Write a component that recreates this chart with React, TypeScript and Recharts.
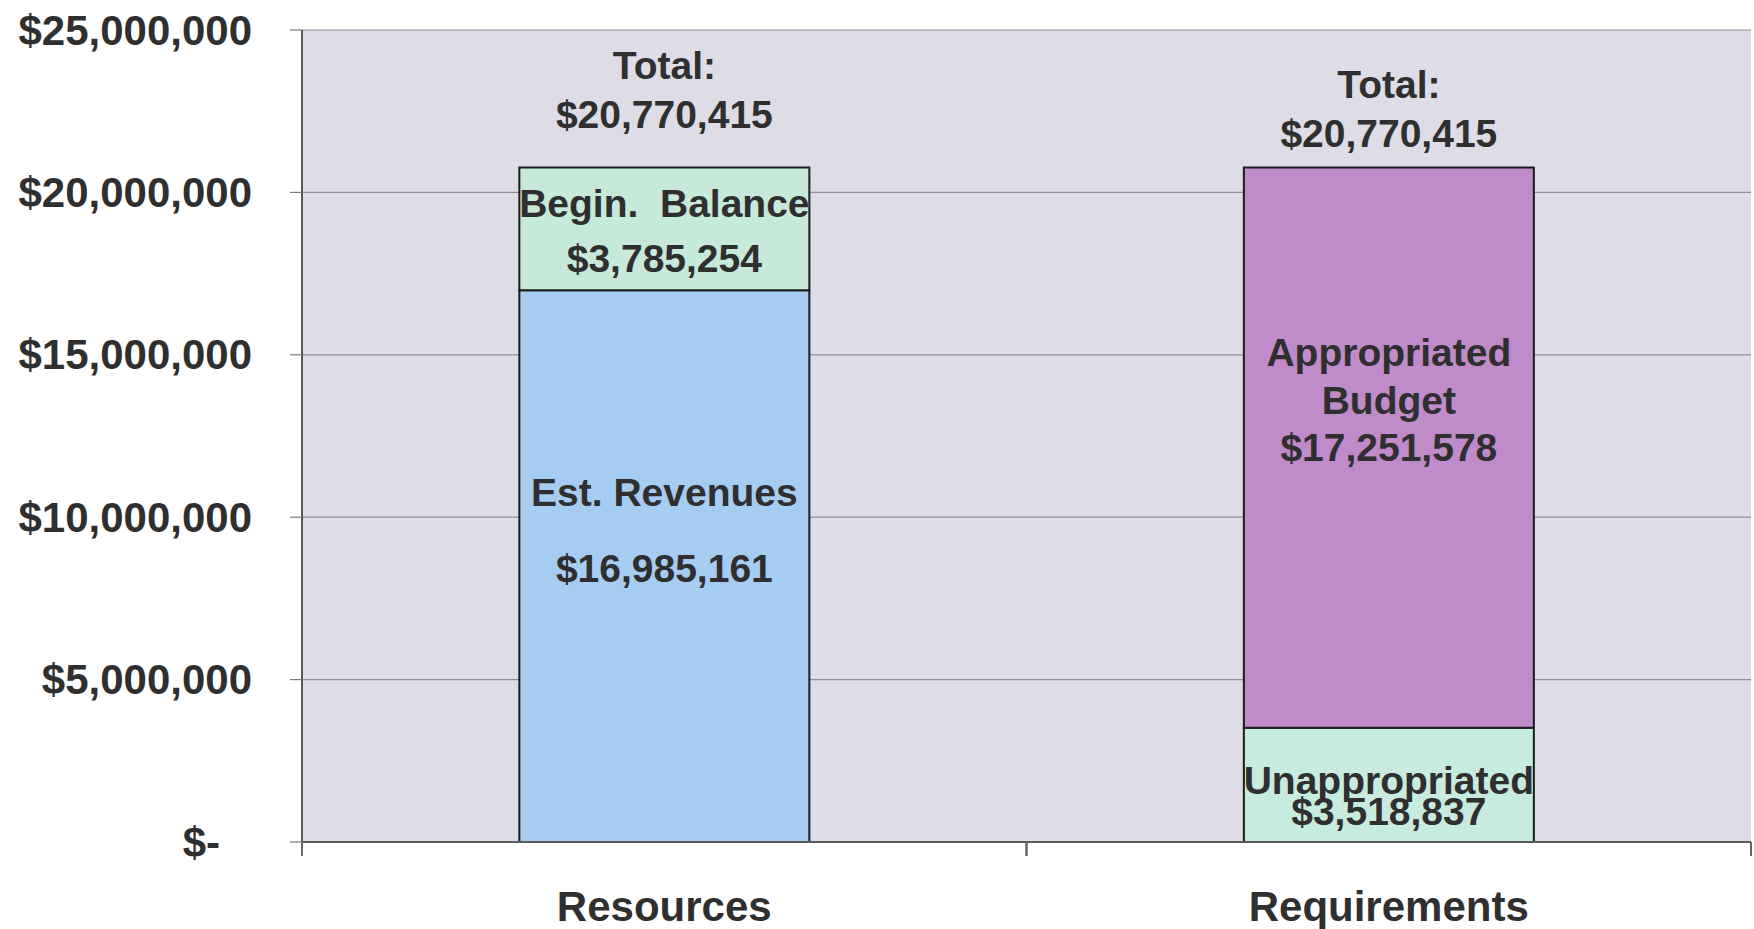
import React from 'react';
import { BarChart, Bar, XAxis, YAxis, CartesianGrid, Cell, LabelList } from 'recharts';

// ---- data ----
const categories = ['Resources', 'Requirements'];
const bottomValues = [16985161, 3518837];
const topValues = [3785254, 17251578];
const bottomNames = [['Est. Revenues', ''], ['Unappropriated']];
const topNames = [['Begin.\u00A0 Balance'], ['Appropriated', 'Budget']];
const yTicks = [0, 5000000, 10000000, 15000000, 20000000, 25000000];

const data = categories.map((c, i) => ({
  name: c,
  bottom: bottomValues[i],
  top: topValues[i],
}));

// ---- styles / layout ----
const W = 1754;
const H = 929;
const MARGIN = { top: 30, right: 3, bottom: 0, left: 0 };
const X_AXIS_H = 87;
const Y_AXIS_W = 302;
const BAND = (W - Y_AXIS_W - MARGIN.right) / categories.length;
const FONT = '"Liberation Sans", Arial, Helvetica, sans-serif';
const TEXT = '#2f2f2f';
const bottomColors = ['#a7ccf1', '#c7ecdf'];
const topColors = ['#c6e9d9', '#bf8bc9'];

// line offsets (px, relative to segment center) for the in-bar labels
const bottomLayout = [
  [-74, 0, 2],
  [-4, 27],
];
const topLayout = [
  [-25, 30],
  [-95, -47, 0],
];
// line offsets relative to the bar top for the totals
const totalLayout = [
  [-102, -53],
  [-83, -34],
];

const fmt = (v: number) => '$' + v.toLocaleString('en-US');

const getBox = (p: any) => {
  const vb = p.viewBox && p.viewBox.width !== undefined ? p.viewBox : p;
  const x = Number(vb.x ?? p.x);
  const y = Number(vb.y ?? p.y);
  const w = Number(vb.width ?? p.width);
  const h = Number(vb.height ?? p.height);
  return { x, y, w, h };
};

const textStyle = {
  fontFamily: FONT,
  fontWeight: 700,
  fill: TEXT,
} as const;

const makeSegLabel = (names: string[][], values: number[], layout: number[][]) => (p: any) => {
  const idx = p.index;
  if (idx === undefined || idx === null) return null;
  const { x, y, w, h } = getBox(p);
  const cx = x + w / 2;
  const cy = y + h / 2;
  const lines = [...names[idx], fmt(values[idx])];
  const offs = layout[idx];
  return (
    <g>
      {lines.map((t, k) =>
        t ? (
          <text
            key={k}
            x={cx}
            y={cy + offs[k]}
            textAnchor="middle"
            dominantBaseline="central"
            fontSize={39}
            {...textStyle}
          >
            {t}
          </text>
        ) : null
      )}
    </g>
  );
};

const TotalLabel = (p: any) => {
  const idx = p.index;
  if (idx === undefined || idx === null) return null;
  const { x, y, w, h } = getBox(p);
  const top = Math.min(y, y + h);
  const cx = x + w / 2;
  const total = bottomValues[idx] + topValues[idx];
  const offs = totalLayout[idx];
  return (
    <g>
      <text x={cx} y={top + offs[0]} textAnchor="middle" dominantBaseline="central" fontSize={39} {...textStyle}>
        Total:
      </text>
      <text x={cx} y={top + offs[1]} textAnchor="middle" dominantBaseline="central" fontSize={39} {...textStyle}>
        {fmt(total)}
      </text>
    </g>
  );
};

const YTick = (p: any) => {
  const { x, y, payload } = p;
  const v = payload.value;
  const isZero = v === 0;
  return (
    <text
      x={isZero ? x - 32 : x}
      y={y}
      textAnchor="end"
      dominantBaseline="central"
      fontSize={42}
      {...textStyle}
    >
      {isZero ? '$-' : fmt(v)}
    </text>
  );
};

const XTick = (p: any) => {
  const { x, y, payload } = p;
  return (
    <g>
      <line x1={x - BAND / 2} x2={x - BAND / 2} y1={y} y2={y + 14} stroke="#666" strokeWidth={2} />
      <line x1={x + BAND / 2} x2={x + BAND / 2} y1={y} y2={y + 14} stroke="#666" strokeWidth={2} />
      <text x={x} y={y + 64} textAnchor="middle" dominantBaseline="central" fontSize={42} {...textStyle}>
        {payload.value}
      </text>
    </g>
  );
};

export default function App() {
  return (
    <div style={{ position: 'absolute', left: 0, top: 0, width: W, height: H, background: '#fff' }}>
      <BarChart width={W} height={H} data={data} margin={MARGIN} barCategoryGap="30%">
        <CartesianGrid yAxisId="l" vertical={false} stroke="#8f8f96" strokeWidth={1.2} fill="#dedce6" />
        <XAxis
          dataKey="name"
          yAxisId="l"
          tick={<XTick />}
          tickLine={false}
          tickSize={0}
          tickMargin={0}
          axisLine={{ stroke: '#5a5a5a', strokeWidth: 2 }}
          height={X_AXIS_H}
          interval={0}
        />
        <YAxis
          yAxisId="l"
          width={Y_AXIS_W}
          domain={[0, 25000000]}
          ticks={yTicks}
          tick={<YTick />}
          tickSize={12}
          tickMargin={38}
          tickLine={{ stroke: '#777', strokeWidth: 1.2 }}
          axisLine={{ stroke: '#5a5a5a', strokeWidth: 2 }}
          interval={0}
        />
        <YAxis
          yAxisId="r"
          orientation="right"
          width={0}
          domain={[0, 25000000]}
          tick={false}
          tickLine={false}
          axisLine={{ stroke: '#8a8a8a', strokeWidth: 2 }}
        />
        <Bar dataKey="bottom" stackId="a" yAxisId="l" stroke="#1c1c1c" strokeWidth={2} isAnimationActive={false}>
          {data.map((_, i) => (
            <Cell key={i} fill={bottomColors[i]} />
          ))}
          <LabelList dataKey="bottom" content={makeSegLabel(bottomNames, bottomValues, bottomLayout)} />
        </Bar>
        <Bar dataKey="top" stackId="a" yAxisId="l" stroke="#1c1c1c" strokeWidth={2} isAnimationActive={false}>
          {data.map((_, i) => (
            <Cell key={i} fill={topColors[i]} />
          ))}
          <LabelList dataKey="top" content={makeSegLabel(topNames, topValues, topLayout)} />
          <LabelList dataKey="top" content={TotalLabel} />
        </Bar>
      </BarChart>
    </div>
  );
}
